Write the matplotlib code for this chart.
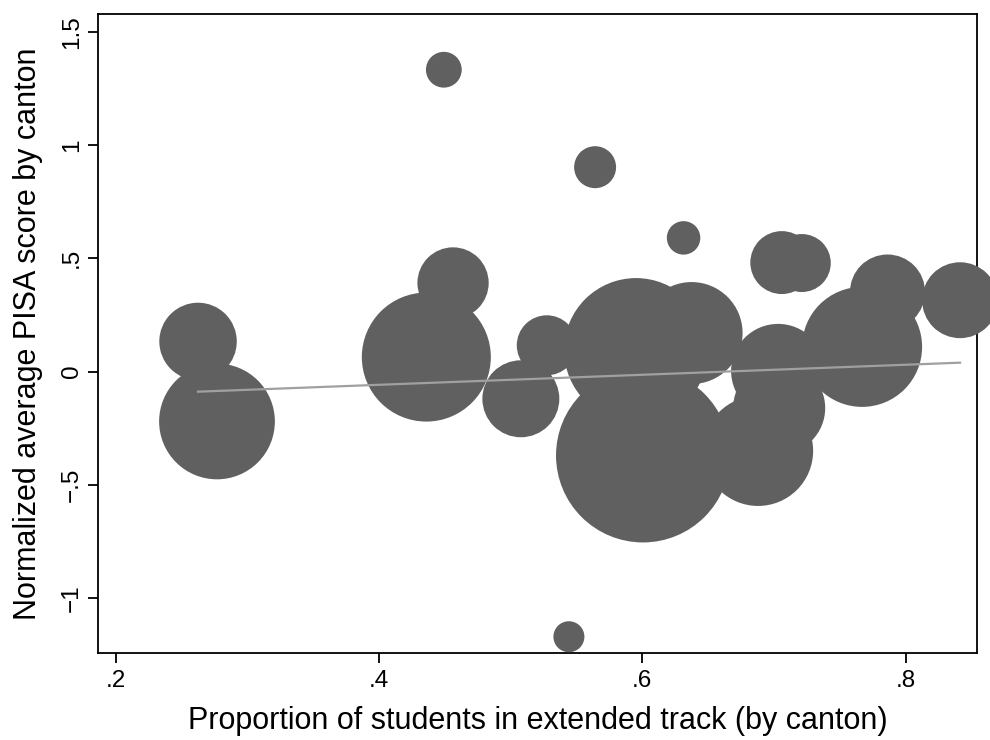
import matplotlib
matplotlib.use('Agg')
import matplotlib.pyplot as plt
import numpy as np

plt.rcParams['font.family'] = ['Liberation Sans', 'DejaVu Sans']

# share of students in extended track, per canton
prop_extended = [0.2625, 0.2769, 0.4359, 0.4562, 0.5077, 0.5274, 0.6005,
                 0.5952, 0.6374, 0.6879, 0.7031, 0.7039, 0.7669, 0.7862,
                 0.8413, 0.7059, 0.7211, 0.4492, 0.5641, 0.6313, 0.5442]
# normalized average PISA score per canton
pisa_score = [0.133, -0.220, 0.064, 0.391, -0.120, 0.116, -0.370,
              0.095, 0.170, -0.350, 0.003, -0.161, 0.109, 0.351,
              0.315, 0.481, 0.479, 1.332, 0.902, 0.590, -1.170]
# bubble weights (canton size)
weights = [15.0, 33.5, 41.6, 12.7, 14.8, 9.0, 75.7,
           51.8, 26.0, 30.3, 22.1, 21.2, 36.0, 14.1,
           14.4, 9.9, 8.4, 3.2, 4.4, 2.8, 2.4]

# fitted line
fit_x = [0.2625, 0.8413]
fit_y = [-0.0887, 0.0393]

xticks = [0.2, 0.4, 0.6, 0.8]
xtick_labels = ['.2', '.4', '.6', '.8']
yticks = [-1, -0.5, 0, 0.5, 1, 1.5]
ytick_labels = ['\u22121', '\u2212.5', '0', '.5', '1', '1.5']

fig = plt.figure(figsize=(9.9, 7.4), dpi=100)
ax = fig.add_axes([0.0987, 0.1169, 0.8882, 0.8642])

sizes = np.array(weights) * 207.4
ax.scatter(prop_extended, pisa_score, s=sizes, color='#606060',
           linewidths=0, clip_on=False, zorder=3)
ax.plot(fit_x, fit_y, color='#a0a0a0', linewidth=1.6, zorder=4)

ax.set_xlim(0.1863, 0.8542)
ax.set_ylim(-1.244, 1.578)

ax.set_xticks(xticks)
ax.set_xticklabels(xtick_labels)
ax.set_yticks(yticks)
ax.set_yticklabels(ytick_labels, rotation=90, va='center')

ax.tick_params(direction='out', length=7.5, width=1.3, labelsize=17.5)
ax.tick_params(axis='x', pad=4.3)
ax.tick_params(axis='y', pad=3.1)
for sp in ax.spines.values():
    sp.set_linewidth(1.3)
    sp.set_color('black')

ax.set_xlabel('Proportion of students in extended track (by canton)',
              fontsize=22, va='baseline')
ax.xaxis.set_label_coords(0.5, -(729.3 - 653.5) / 639.5)
ax.set_ylabel('Normalized average PISA score by canton', fontsize=22)
ax.yaxis.set_label_coords(-0.0622, 0.5)

fig.savefig('out.png', dpi=100)
plt.close(fig)
